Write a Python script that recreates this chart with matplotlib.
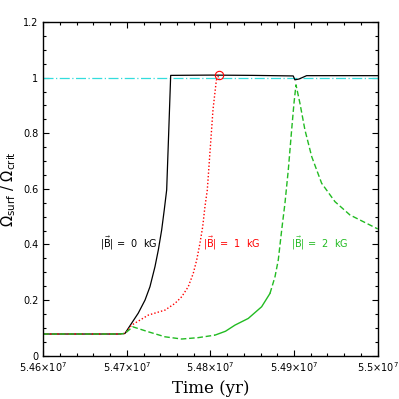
import matplotlib.pyplot as plt
from matplotlib.ticker import MultipleLocator, FixedLocator

# data (time in 1e7 yr, ratio Omega_surf / Omega_crit)
t_b0 = [5.4600, 5.4650, 5.4690, 5.46977, 5.47057, 5.47136, 5.47217, 5.47276, 5.47336,
        5.47376, 5.47416, 5.47447, 5.47476, 5.47500, 5.47524, 5.4800, 5.4850,
        5.4899, 5.4901, 5.4906, 5.4915, 5.4950, 5.5000]
w_b0 = [0.078, 0.078, 0.078, 0.080, 0.117, 0.153, 0.200, 0.248, 0.320,
        0.380, 0.452, 0.524, 0.596, 0.800, 1.008, 1.009, 1.008,
        1.006, 0.992, 0.995, 1.007, 1.007, 1.007]

t_b1 = [5.4600, 5.4650, 5.4690, 5.46977, 5.47057, 5.47256, 5.47456, 5.47575, 5.47656,
        5.47734, 5.47794, 5.47835, 5.47874, 5.47907, 5.47934, 5.47962, 5.4803,
        5.4807, 5.4810]
w_b1 = [0.078, 0.078, 0.078, 0.080, 0.110, 0.146, 0.164, 0.188, 0.212,
        0.248, 0.296, 0.344, 0.404, 0.464, 0.536, 0.596, 0.884,
        0.990, 1.008]

t_b2 = [5.4600, 5.4650, 5.4690, 5.46977, 5.47070, 5.47256, 5.47456, 5.47656, 5.47854,
        5.48054, 5.4818, 5.48293, 5.48452, 5.48612, 5.48712, 5.48772, 5.48811,
        5.48852, 5.48891, 5.48931, 5.48971, 5.48999, 5.49023, 5.4907, 5.4913,
        5.49211, 5.4933, 5.49489, 5.49669, 5.49828, 5.5000]
w_b2 = [0.078, 0.078, 0.078, 0.080, 0.104, 0.086, 0.068, 0.060, 0.065,
        0.074, 0.088, 0.110, 0.134, 0.176, 0.224, 0.284, 0.344,
        0.452, 0.548, 0.668, 0.812, 0.908, 0.974, 0.908, 0.812,
        0.716, 0.620, 0.554, 0.506, 0.482, 0.456]

t_crit = 5.4810
w_crit = 1.008

xticks = [5.46, 5.47, 5.48, 5.49, 5.50]
xlabels = [r'$5.46{\times}10^7$', r'$5.47{\times}10^7$', r'$5.48{\times}10^7$',
           r'$5.49{\times}10^7$', r'$5.5{\times}10^7$']
yticks = [0, 0.2, 0.4, 0.6, 0.8, 1.0, 1.2]
ylabels = ['0', '0.2', '0.4', '0.6', '0.8', '1', '1.2']

green = '#22bb22'

fig = plt.figure(figsize=(3.99, 3.99), dpi=100)
ax = fig.add_axes([0.1085, 0.1085, 0.838, 0.8364])

ax.axhline(1.0, color='#33dddd', lw=0.9, dashes=(8, 2, 1, 2))
ax.plot(t_b0, w_b0, color='black', lw=0.9)
ax.plot(t_b1, w_b1, color='red', lw=1.0, ls=(0, (1, 1.5)))
# the dense middle part of the 2 kG track looks solid in the original
ax.plot(t_b2[:10], w_b2[:10], color=green, lw=1.0, ls=(0, (4, 2)))
ax.plot(t_b2[9:15], w_b2[9:15], color=green, lw=1.0)
ax.plot(t_b2[14:], w_b2[14:], color=green, lw=1.0, ls=(0, (4, 2)))
ax.plot([t_crit], [w_crit], 'o', mfc='none', mec='red', ms=6, mew=0.8)

ax.text(5.4668, 0.405, r'$|\vec{\mathrm{B}}|$ =  0  kG', color='black', fontsize=7, va='center')
ax.text(5.4791, 0.405, r'$|\vec{\mathrm{B}}|$ =  1  kG', color='red', fontsize=7, va='center')
ax.text(5.4896, 0.405, r'$|\vec{\mathrm{B}}|$ =  2  kG', color=green, fontsize=7, va='center')

ax.set_xlim(5.46, 5.50)
ax.set_ylim(0, 1.2)
ax.xaxis.set_major_locator(FixedLocator(xticks))
ax.set_xticklabels(xlabels)
ax.xaxis.set_minor_locator(MultipleLocator(0.002))
ax.yaxis.set_major_locator(FixedLocator(yticks))
ax.set_yticklabels(ylabels)
ax.yaxis.set_minor_locator(MultipleLocator(0.05))
ax.tick_params(which='both', direction='in', top=True, right=True, labelsize=7, width=0.8)
ax.tick_params(which='major', length=4)
ax.tick_params(which='minor', length=2.5)
for s in ax.spines.values():
    s.set_linewidth(1.0)

ax.set_xlabel('Time (yr)', family='DejaVu Serif', fontsize=12)
ax.set_ylabel(r'$\Omega_{\mathrm{surf}}\ /\ \Omega_{\mathrm{crit}}$', fontsize=10.5)
ax.yaxis.set_label_coords(-0.075, 0.5)

plt.savefig('out.png', dpi=100)
